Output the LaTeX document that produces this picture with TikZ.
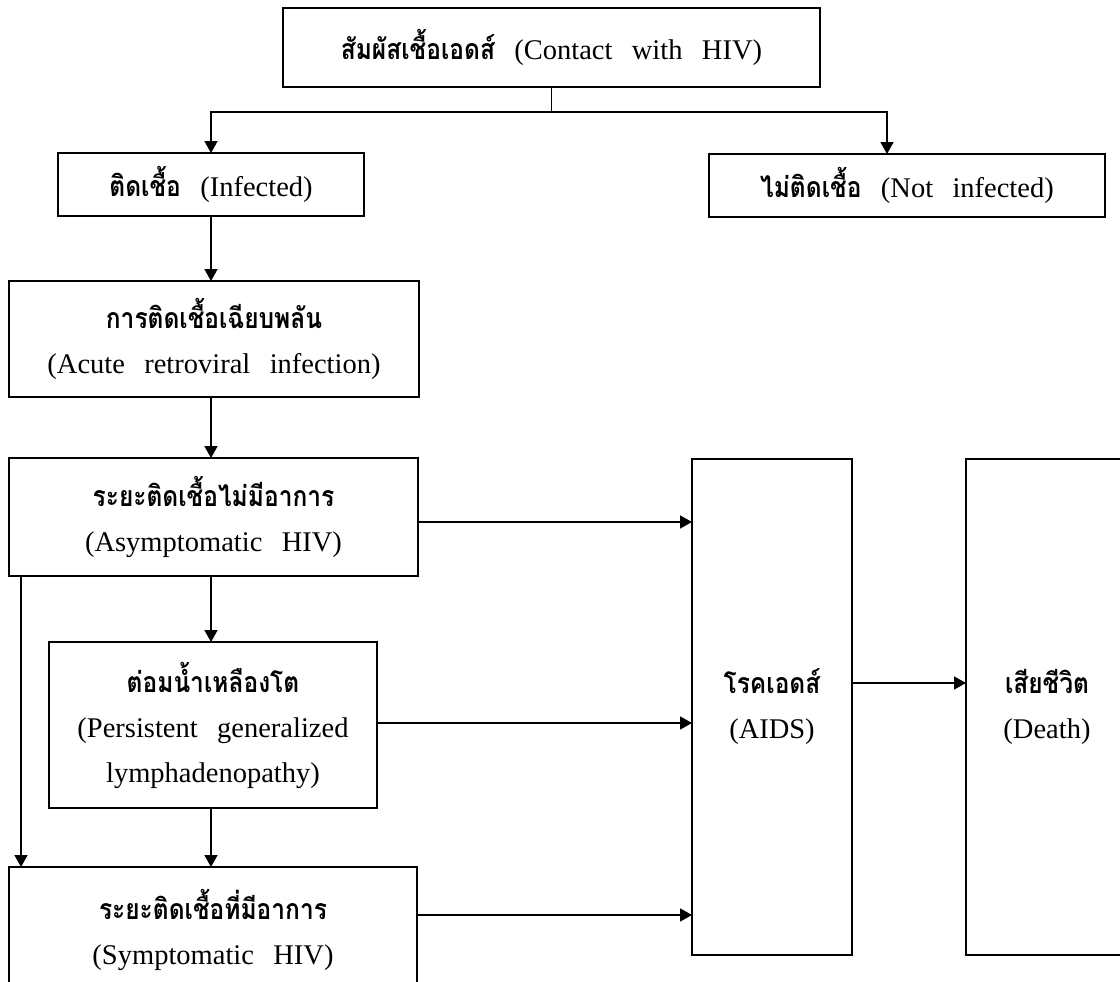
\documentclass[tikz,border=0pt]{standalone}
\usepackage{fontspec}
\setmainfont{Liberation Serif}
\newfontfamily\thaifont[Script=Thai,FakeStretch=0.86]{Loma}
\usetikzlibrary{arrows.meta}
\newcommand\wsp{\hspace{0.68em}}
\newcommand\thtxt[1]{{\thaifont\bfseries #1}}
\begin{document}
\begin{tikzpicture}[x=1pt,y=-1pt,
  box/.style={draw, line width=1.7pt, inner sep=0pt, outer sep=0pt, anchor=north west,
    align=center, font=\fontsize{28.5}{45}\selectfont},
  ln/.style={line width=1.7pt},
  arr/.style={line width=1.7pt, -{Triangle[length=12pt,width=13pt]}}]
\useasboundingbox (0,0) rectangle (1120,982);
\fill[white] (0,0) rectangle (1120,982);
\begin{scope}
\clip (0,0) rectangle (1120,982);
% boxes
\node[box, minimum width=537pt, minimum height=79pt] (top) at (283,8)
  {\raisebox{-5pt}{\thtxt{สัมผัสเชื้อเอดส์}\wsp(Contact\wsp with\wsp HIV)}};
\node[box, minimum width=306pt, minimum height=63pt] (inf) at (58,153)
  {\thtxt{ติดเชื้อ}\wsp(Infected)};
\node[box, minimum width=396pt, minimum height=63pt] (notinf) at (709,154)
  {\thtxt{ไม่ติดเชื้อ}\wsp(Not\wsp infected)};
\node[box, minimum width=410pt, minimum height=116pt] (acute) at (9,281)
  {\thtxt{การติดเชื้อเฉียบพลัน}\\(Acute\wsp retroviral\wsp infection)};
\node[box, minimum width=409pt, minimum height=118pt] (asym) at (9,458)
  {\thtxt{ระยะติดเชื้อไม่มีอาการ}\\(Asymptomatic\wsp HIV)};
\node[box, minimum width=328pt, minimum height=166pt] (pgl) at (49,642)
  {\thtxt{ต่อมน้ำเหลืองโต}\\(Persistent\wsp generalized\\lymphadenopathy)};
\node[box, minimum width=408pt, minimum height=126pt] (sym) at (9,867)
  {\thtxt{ระยะติดเชื้อที่มีอาการ}\\(Symptomatic\wsp HIV)};
\node[box, minimum width=160pt, minimum height=496pt] (aids) at (692,459)
  {\thtxt{โรคเอดส์}\\(AIDS)};
\node[box, minimum width=162pt, minimum height=496pt] (death) at (966,459)
  {\thtxt{เสียชีวิต}\\(Death)};
% helper coordinates
\coordinate (jr) at (887,112);
\coordinate (cx) at (211,0);
\coordinate (lx) at (21,0);
\coordinate (ya) at (0,522);
\coordinate (yb) at (0,723);
\coordinate (yc) at (0,915);
\coordinate (yd) at (0,683);
% connectors
\draw[ln] (top.south) -- (top.south |- jr);
\draw[arr] (top.south |- jr) -| (inf.north);
\draw[arr] (top.south |- jr) -| (notinf.north -| jr);
\draw[arr] (inf.south) -- (inf.south |- acute.north);
\draw[arr] (acute.south -| cx) -- (asym.north -| cx);
\draw[arr] (asym.south -| cx) -- (pgl.north -| cx);
\draw[arr] (pgl.south -| cx) -- (sym.north -| cx);
\draw[arr] (asym.south -| lx) -- (sym.north -| lx);
\draw[arr] (asym.east |- ya) -- (aids.west |- ya);
\draw[arr] (pgl.east |- yb) -- (aids.west |- yb);
\draw[arr] (sym.east |- yc) -- (aids.west |- yc);
\draw[arr] (aids.east |- yd) -- (death.west |- yd);
\end{scope}
\end{tikzpicture}
\end{document}
